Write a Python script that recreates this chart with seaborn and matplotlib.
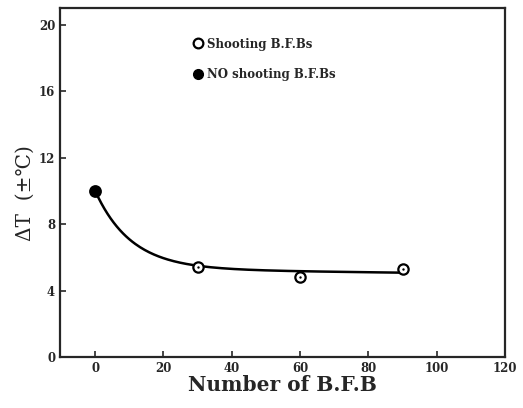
import numpy as np
import pandas as pd
import matplotlib
matplotlib.use("Agg")
import matplotlib.pyplot as plt
from matplotlib.lines import Line2D
import seaborn as sns

# Measured points
shoot_x = [30, 60, 90]
shoot_y = [5.4, 4.8, 5.3]
noshoot_x = [0]
noshoot_y = [10.0]

# Trend fitted through the points: y = base + slope*x + amp*exp(-x/tau)
fit_base, fit_slope, fit_amp, fit_tau = 5.3, -0.0025, 4.7, 10.5

x_ticks = [0, 20, 40, 60, 80, 100, 120]
y_ticks = [0, 4, 8, 12, 16, 20]

sns.set_style("ticks")
plt.rcParams["font.family"] = ["DejaVu Serif"]

fig = plt.figure(figsize=(5.23, 4.08), dpi=100)
ax = fig.add_axes([0.1147, 0.125, 0.851, 0.855])

fx = np.linspace(0, 90, 200)
fy = fit_base + fit_slope * fx + fit_amp * np.exp(-fx / fit_tau)
sns.lineplot(x=fx, y=fy, ax=ax, color="black", lw=1.8, sort=False)

sns.scatterplot(x=shoot_x, y=shoot_y, ax=ax, marker="o", s=55,
                facecolor="white", edgecolor="black", linewidth=1.6, zorder=5)
sns.scatterplot(x=shoot_x, y=shoot_y, ax=ax, marker="o", s=3,
                color="black", linewidth=0, zorder=6)
sns.scatterplot(x=noshoot_x, y=noshoot_y, ax=ax, marker="o", s=85,
                color="black", linewidth=0, zorder=6)

ax.set_xlim(-10.3, 120)
ax.set_ylim(0, 21)
ax.set_xticks(x_ticks)
ax.set_yticks(y_ticks)
ax.tick_params(direction="in", length=4, width=1.2, labelsize=8.5)
for lab in ax.get_xticklabels() + ax.get_yticklabels():
    lab.set_fontweight("bold")
for s in ax.spines.values():
    s.set_linewidth(1.6)
    s.set_visible(True)

ax.set_xlabel("Number of B.F.B", fontsize=14.5, fontweight="semibold", labelpad=0)
ax.set_ylabel("ΔT  (±℃)", fontsize=14.5)
ax.yaxis.set_label_coords(-0.056, 0.47)

handles = [
    Line2D([], [], marker="o", ls="", markersize=7, markerfacecolor="white",
           markeredgecolor="black", markeredgewidth=1.6),
    Line2D([], [], marker="o", ls="", markersize=7, color="black"),
]
ax.legend(handles, ["Shooting B.F.Bs", "NO shooting B.F.Bs"],
          loc="upper left", bbox_to_anchor=(0.272, 0.946), frameon=False,
          handletextpad=0.3, labelspacing=1.45, handlelength=1.0,
          prop={"family": "DejaVu Serif", "weight": "bold", "size": 8.5})

fig.savefig("out.png", dpi=100)
